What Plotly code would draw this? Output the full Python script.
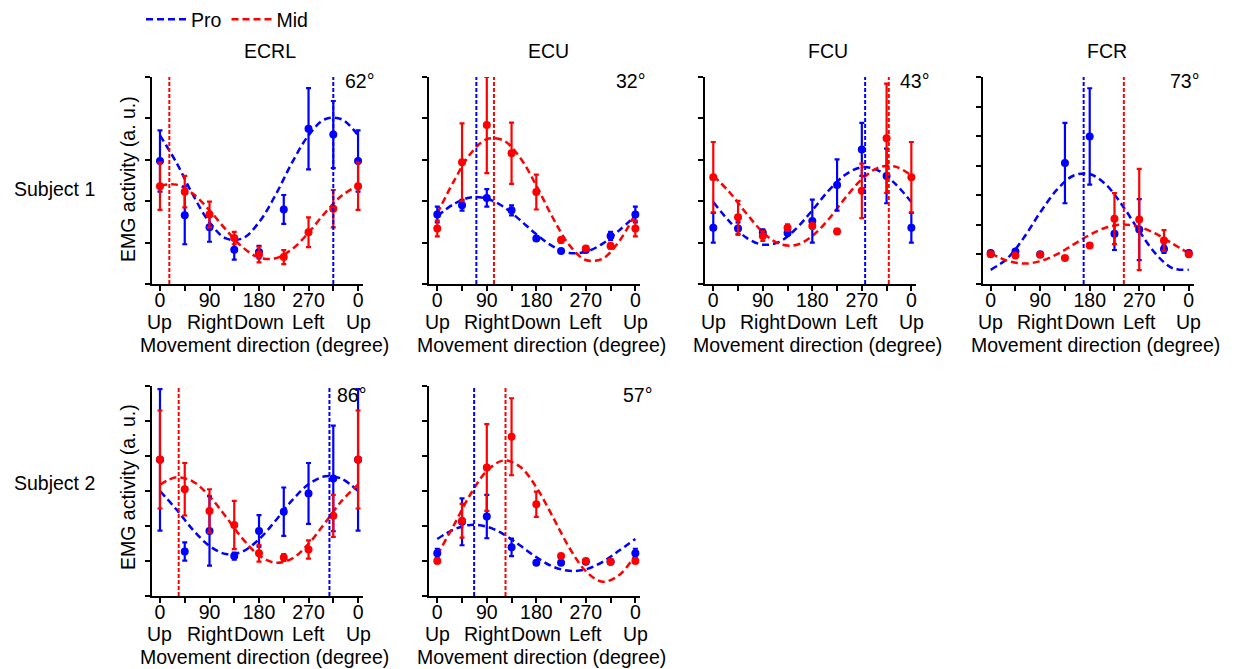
import plotly.graph_objects as go

# ---------------- data ----------------
angles = [0, 45, 90, 135, 180, 225, 270, 315, 360]
fit_angles = [0, 30, 60, 90, 120, 150, 180, 210, 240, 270, 300, 330, 360]
tick_vals = [0, 45, 90, 135, 180, 225, 270, 315, 360]
tick_text = ["0", "", "90", "", "180", "", "270", "", "0"]
label_angles = [0, 90, 180, 270, 360]
direction_words = ["Up", "Right", "Down", "Left", "Up"]

muscles = ["ECRL", "ECU", "FCU", "FCR"]
subjects = ["Subject 1", "Subject 2"]
angle_labels = ["62°", "32°", "43°", "73°", "86°", "57°"]
y_max = [5, 5, 5, 7, 6, 6]

# preferred directions (vertical lines)
pd_pro = [315, 71, 276, 169, 308, 67]
pd_mid = [17, 103, 319, 242, 34, 124]

# Subject 1 - ECRL
s1_ecrl_pro_mean = [2.97, 1.66, 1.37, 0.83, 0.77, 1.80, 3.75, 3.61, 2.97]
s1_ecrl_pro_err = [0.74, 0.70, 0.35, 0.24, 0.15, 0.35, 0.98, 0.81, 0.74]
s1_ecrl_mid_mean = [2.36, 2.23, 1.68, 1.11, 0.71, 0.65, 1.25, 1.82, 2.36]
s1_ecrl_mid_err = [0.57, 0.38, 0.31, 0.15, 0.19, 0.17, 0.36, 0.45, 0.57]
s1_ecrl_pro_fit = [3.59, 2.93, 2.15, 1.49, 1.10, 1.10, 1.49, 2.15, 2.93, 3.59, 3.98, 3.98, 3.59]
s1_ecrl_mid_fit = [2.38, 2.40, 2.18, 1.78, 1.31, 0.89, 0.64, 0.62, 0.84, 1.24, 1.72, 2.13, 2.38]

# Subject 1 - ECU
s1_ecu_pro_mean = [1.68, 1.90, 2.08, 1.78, 1.10, 0.80, 0.82, 1.16, 1.68]
s1_ecu_pro_err = [0.19, 0.13, 0.21, 0.12, 0.06, 0.04, 0.04, 0.10, 0.19]
s1_ecu_mid_mean = [1.34, 2.94, 3.84, 3.16, 2.22, 1.06, 0.86, 0.92, 1.34]
s1_ecu_mid_err = [0.19, 0.94, 1.16, 0.74, 0.42, 0.06, 0.04, 0.06, 0.19]
s1_ecu_pro_fit = [1.64, 1.93, 2.09, 2.06, 1.87, 1.55, 1.20, 0.91, 0.75, 0.78, 0.97, 1.29, 1.64]
s1_ecu_mid_fit = [1.70, 2.48, 3.14, 3.50, 3.47, 3.06, 2.38, 1.60, 0.94, 0.58, 0.61, 1.02, 1.70]

# Subject 1 - FCU
s1_fcu_pro_mean = [1.36, 1.34, 1.24, 1.23, 1.52, 2.39, 3.25, 2.61, 1.36]
s1_fcu_pro_err = [0.36, 0.15, 0.08, 0.05, 0.52, 0.62, 0.64, 0.66, 0.36]
s1_fcu_mid_mean = [2.58, 1.61, 1.16, 1.36, 1.40, 1.27, 2.25, 3.52, 2.58]
s1_fcu_mid_err = [0.85, 0.40, 0.12, 0.08, 0.06, 0.06, 0.66, 1.32, 0.85]
s1_fcu_pro_fit = [1.98, 1.50, 1.12, 0.95, 1.02, 1.33, 1.78, 2.26, 2.64, 2.82, 2.74, 2.43, 1.98]
s1_fcu_mid_fit = [2.62, 2.21, 1.71, 1.25, 0.97, 0.94, 1.16, 1.57, 2.08, 2.53, 2.81, 2.84, 2.62]

# Subject 1 - FCR
s1_fcr_pro_mean = [1.05, 1.10, 1.01, 4.09, 4.99, 1.70, 1.84, 1.18, 1.05]
s1_fcr_pro_err = [0.06, 0.05, 0.05, 1.36, 1.63, 0.55, 1.03, 0.13, 0.06]
s1_fcr_mid_mean = [1.01, 0.96, 0.99, 0.88, 1.30, 2.21, 2.18, 1.47, 1.01]
s1_fcr_mid_err = [0.08, 0.05, 0.06, 0.04, 0.06, 0.86, 1.71, 0.35, 0.08]
s1_fcr_pro_fit = [0.48, 0.86, 1.56, 2.42, 3.18, 3.66, 3.72, 3.35, 2.64, 1.79, 1.02, 0.54, 0.48]
s1_fcr_mid_fit = [1.04, 0.79, 0.69, 0.77, 1.00, 1.33, 1.66, 1.91, 2.01, 1.93, 1.70, 1.37, 1.04]

# Subject 2 - ECRL
s2_ecrl_pro_mean = [3.89, 1.27, 1.86, 1.14, 1.86, 2.41, 2.93, 3.36, 3.89]
s2_ecrl_pro_err = [2.02, 0.26, 0.99, 0.10, 0.45, 0.69, 0.87, 1.51, 2.02]
s2_ecrl_mid_mean = [3.90, 3.05, 2.43, 2.03, 1.22, 1.10, 1.33, 2.29, 3.90]
s2_ecrl_mid_err = [1.40, 0.75, 0.62, 0.69, 0.24, 0.10, 0.26, 0.60, 1.40]
s2_ecrl_pro_fit = [3.00, 2.47, 1.89, 1.43, 1.20, 1.27, 1.62, 2.15, 2.73, 3.19, 3.42, 3.35, 3.00]
s2_ecrl_mid_fit = [3.18, 3.39, 3.27, 2.85, 2.26, 1.64, 1.16, 0.95, 1.07, 1.49, 2.09, 2.71, 3.18]

# Subject 2 - ECU
s2_ecu_pro_mean = [1.22, 2.12, 2.27, 1.39, 0.95, 0.95, 0.98, 0.98, 1.22]
s2_ecu_pro_err = [0.13, 0.67, 0.62, 0.25, 0.04, 0.04, 0.04, 0.04, 0.13]
s2_ecu_mid_mean = [1.00, 2.15, 3.67, 4.55, 2.62, 1.14, 1.00, 0.98, 1.00]
s2_ecu_mid_err = [0.04, 0.48, 1.24, 1.10, 0.36, 0.06, 0.04, 0.04, 0.04]
s2_ecu_pro_fit = [1.63, 1.90, 2.03, 1.98, 1.77, 1.45, 1.11, 0.84, 0.72, 0.76, 0.97, 1.29, 1.63]
s2_ecu_mid_fit = [1.17, 2.02, 2.90, 3.57, 3.87, 3.70, 3.11, 2.26, 1.38, 0.71, 0.41, 0.59, 1.17]

panels = [
    (s1_ecrl_pro_mean, s1_ecrl_pro_err, s1_ecrl_mid_mean, s1_ecrl_mid_err, s1_ecrl_pro_fit, s1_ecrl_mid_fit),
    (s1_ecu_pro_mean, s1_ecu_pro_err, s1_ecu_mid_mean, s1_ecu_mid_err, s1_ecu_pro_fit, s1_ecu_mid_fit),
    (s1_fcu_pro_mean, s1_fcu_pro_err, s1_fcu_mid_mean, s1_fcu_mid_err, s1_fcu_pro_fit, s1_fcu_mid_fit),
    (s1_fcr_pro_mean, s1_fcr_pro_err, s1_fcr_mid_mean, s1_fcr_mid_err, s1_fcr_pro_fit, s1_fcr_mid_fit),
    (s2_ecrl_pro_mean, s2_ecrl_pro_err, s2_ecrl_mid_mean, s2_ecrl_mid_err, s2_ecrl_pro_fit, s2_ecrl_mid_fit),
    (s2_ecu_pro_mean, s2_ecu_pro_err, s2_ecu_mid_mean, s2_ecu_mid_err, s2_ecu_pro_fit, s2_ecu_mid_fit),
]

# ---------------- layout ----------------
W, H = 1237, 669
BLUE = "#0000ff"
RED = "#ff0000"
FONT = "Liberation Sans, Arial, sans-serif"
FS = 19.5

col_left_px = [152.0, 429.3, 705.3, 982.7]
panel_w_px = 211.0
row_px = [(77, 284), (386, 596)]
panel_pos = [(0, 0), (0, 1), (0, 2), (0, 3), (1, 0), (1, 1)]

fig = go.Figure()
shapes = []
annotations = []
layout_axes = {}

def txt_font():
    return dict(size=FS, color="black", family=FONT)

for i, (pro_m, pro_e, mid_m, mid_e, pro_f, mid_f) in enumerate(panels):
    r, c = panel_pos[i]
    sfx = "" if i == 0 else str(i + 1)
    xa, ya = "x" + sfx, "y" + sfx

    fig.add_trace(go.Scatter(
        x=fit_angles, y=pro_f, mode="lines", name="Pro", legendgroup="pro",
        showlegend=(i == 0), line=dict(color=BLUE, width=2.5, dash="7px,4px", shape="spline"),
        xaxis=xa, yaxis=ya, hoverinfo="skip"))
    fig.add_trace(go.Scatter(
        x=fit_angles, y=mid_f, mode="lines", name="Mid", legendgroup="mid",
        showlegend=(i == 0), line=dict(color=RED, width=2.5, dash="7px,4px", shape="spline"),
        xaxis=xa, yaxis=ya, hoverinfo="skip"))
    fig.add_trace(go.Scatter(
        x=angles, y=pro_m, mode="markers", showlegend=False, legendgroup="pro",
        marker=dict(color=BLUE, size=8),
        error_y=dict(type="data", array=pro_e, color=BLUE, thickness=2.2, width=2.5),
        xaxis=xa, yaxis=ya))
    fig.add_trace(go.Scatter(
        x=angles, y=mid_m, mode="markers", showlegend=False, legendgroup="mid",
        marker=dict(color=RED, size=8),
        error_y=dict(type="data", array=mid_e, color=RED, thickness=2.2, width=2.5),
        xaxis=xa, yaxis=ya))

    for pdv, col in ((pd_pro[i], BLUE), (pd_mid[i], RED)):
        shapes.append(dict(type="line", xref=xa, yref=ya + " domain", x0=pdv, x1=pdv,
                           y0=0, y1=1, line=dict(color=col, width=2, dash="4px,2px")))

    # direction words under the numeric tick labels
    for a, wtxt in zip(label_angles, direction_words):
        annotations.append(dict(text=wtxt, x=a, y=0, xref=xa, yref=ya + " domain",
                                xanchor="center", yanchor="middle", yshift=-37.5,
                                showarrow=False, font=txt_font()))
    # x axis title
    annotations.append(dict(text="Movement direction (degree)", x=190, y=0, xref=xa,
                            yref=ya + " domain", xanchor="center", yanchor="middle",
                            yshift=-60.5, showarrow=False, font=txt_font()))

    x0 = col_left_px[c] / W
    x1 = (col_left_px[c] + panel_w_px) / W
    top, bot = row_px[r]
    y0 = 1 - bot / H
    y1 = 1 - top / H

    layout_axes["xaxis" + sfx] = dict(
        domain=[x0, x1], range=[-14.5, 369], anchor=ya,
        showline=True, linecolor="black", linewidth=2, mirror=False,
        ticks="outside", ticklen=5, tickwidth=2, tickcolor="black",
        tickmode="array", tickvals=tick_vals, ticktext=tick_text,
        tickfont=txt_font(), ticklabelstandoff=-7,
        showgrid=False, zeroline=False)
    layout_axes["yaxis" + sfx] = dict(
        domain=[y0, y1], range=[0, y_max[i]], anchor=xa,
        showline=True, linecolor="black", linewidth=2,
        ticks="outside", ticklen=5, tickwidth=2, tickcolor="black",
        tick0=0, dtick=1, showticklabels=False,
        showgrid=False, zeroline=False)

# angle labels (top right of each panel)
angle_px = [(360, 81), (631, 81), (915, 81), (1185, 81), (352, 395), (638, 395)]
for (px, py), txt in zip(angle_px, angle_labels):
    annotations.append(dict(text=txt, x=px / W, y=1 - py / H, xref="paper", yref="paper",
                            xanchor="center", yanchor="middle", showarrow=False,
                            font=txt_font()))

# muscle titles
title_px = [270, 548, 828, 1107]
for px, txt in zip(title_px, muscles):
    annotations.append(dict(text=txt, x=px / W, y=1 - 51 / H, xref="paper", yref="paper",
                            xanchor="center", yanchor="middle", showarrow=False,
                            font=txt_font()))

# subject labels and y titles
for (sy, yt), txt in zip([(189, 179), (483, 487)], subjects):
    annotations.append(dict(text=txt, x=12 / W, y=1 - sy / H, xref="paper", yref="paper",
                            xanchor="left", yanchor="middle", showarrow=False,
                            font=txt_font()))
    annotations.append(dict(text="EMG activity (a. u.)", x=128 / W, y=1 - yt / H,
                            xref="paper", yref="paper", xanchor="center", yanchor="middle",
                            textangle=-90, showarrow=False, font=txt_font()))

fig.update_layout(
    width=W, height=H,
    margin=dict(l=0, r=0, t=0, b=0),
    paper_bgcolor="white", plot_bgcolor="white",
    font=dict(family=FONT, size=FS, color="black"),
    showlegend=True,
    legend=dict(orientation="h", x=141 / W, y=1.0, xanchor="left", yanchor="top",
                font=txt_font(), bgcolor="rgba(0,0,0,0)",
                itemwidth=40, tracegroupgap=0),
    shapes=shapes, annotations=annotations,
    **layout_axes,
)

fig.write_html("out.html", config={"displayModeBar": False},
               post_script="document.body.style.margin='0px';")
